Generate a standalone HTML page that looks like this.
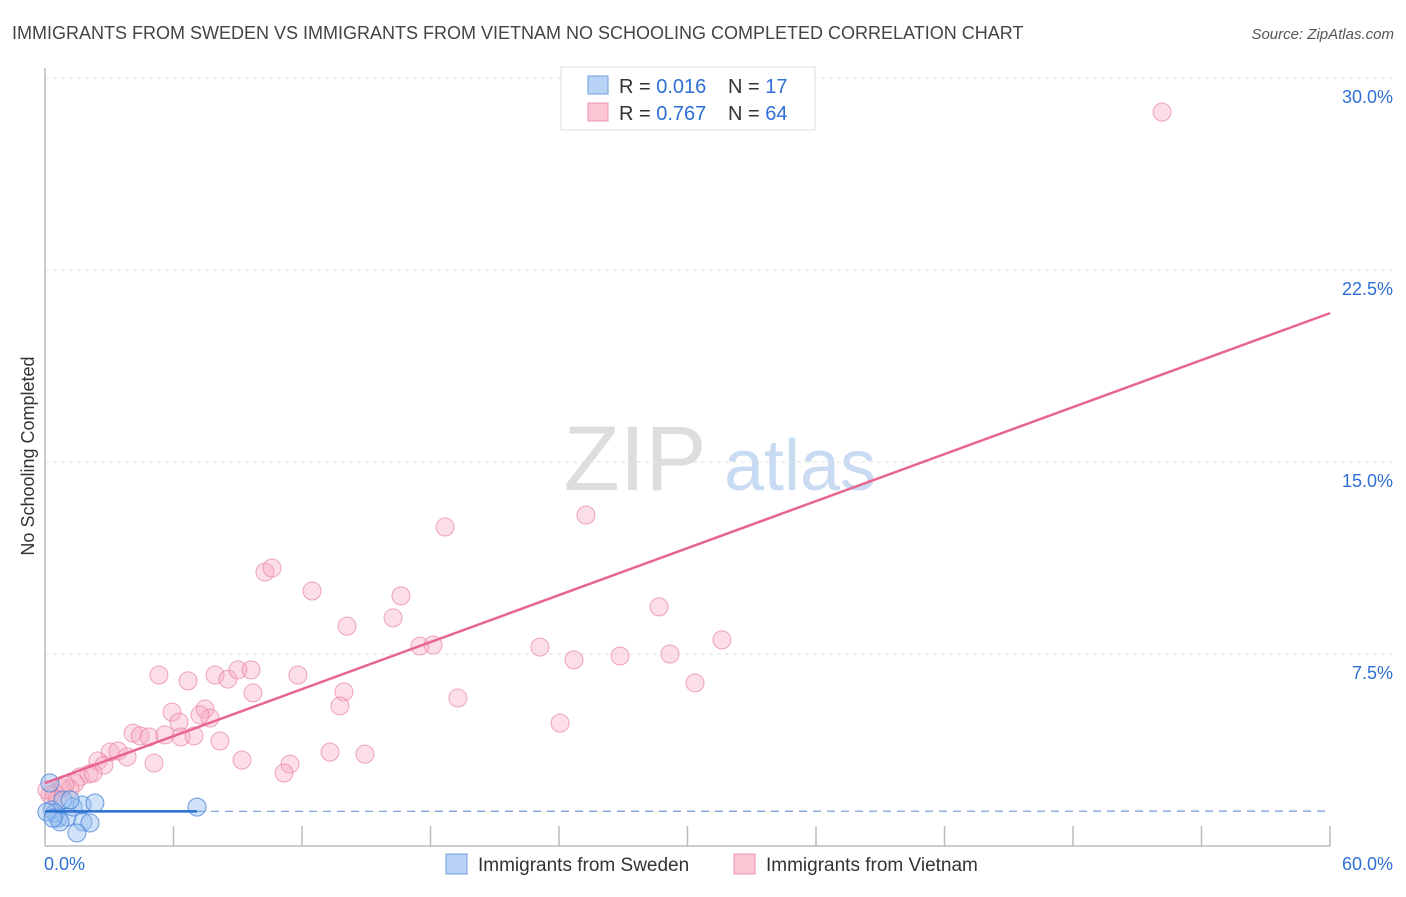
<!DOCTYPE html>
<html><head><meta charset="utf-8"><style>
body{margin:0;background:#fff;font-family:"Liberation Sans",sans-serif;}
svg text{font-family:"Liberation Sans",sans-serif;}
</style></head><body>
<svg id="c" width="1406" height="892" xmlns="http://www.w3.org/2000/svg">
<text x="12" y="39" font-size="18" fill="#444">IMMIGRANTS FROM SWEDEN VS IMMIGRANTS FROM VIETNAM NO SCHOOLING COMPLETED CORRELATION CHART</text>
<text x="1394" y="39" font-size="15" fill="#555" font-style="italic" text-anchor="end">Source: ZipAtlas.com</text>
<text x="34" y="456" font-size="18" fill="#333" text-anchor="middle" transform="rotate(-90 34 456)">No Schooling Completed</text>
<g><text x="635" y="490" font-size="92" fill="#ddd" font-family="Liberation Serif" text-anchor="middle">ZIP</text><text x="800" y="490" font-size="72" fill="#c9dbf3" text-anchor="middle">atlas</text></g>
<g id="grid"></g><g id="marks"></g>
<g>
<rect x="561" y="67" width="254" height="63" fill="#fff" stroke="#ddd"/>
<rect x="588" y="76" width="20" height="18" fill="#b8d3f5" stroke="#6f9ee0"/>
<rect x="588" y="103" width="20" height="18" fill="#fbc5d4" stroke="#ee93ac"/>
<text x="619" y="93" font-size="20" fill="#333">R = <tspan fill="#2e6fd6">0.016</tspan></text>
<text x="728" y="93" font-size="20" fill="#333">N = <tspan fill="#2e6fd6"> 17</tspan></text>
<text x="619" y="120" font-size="20" fill="#333">R = <tspan fill="#2e6fd6">0.767</tspan></text>
<text x="728" y="120" font-size="20" fill="#333">N = <tspan fill="#2e6fd6">64</tspan></text>
</g>
<g>
<rect x="446" y="854" width="21" height="20" fill="#b8d3f5" stroke="#6f9ee0"/>
<text x="478" y="871" font-size="19" fill="#333">Immigrants from Sweden</text>
<rect x="734" y="854" width="21" height="20" fill="#fbc5d4" stroke="#ee93ac"/>
<text x="766" y="871" font-size="19" fill="#333">Immigrants from Vietnam</text>
</g>
</svg>
<script>
const xTicks=[0,60];
const yTicks=[7.5,15,22.5,30];
const swedenX=[0.23,0.33,0.61,1.03,1.31,1.73,2.33,1.77,2.10,1.49,7.10,0.84,0.47,1.17,0.70,0.09,0.37];
const swedenY=[2.46,1.41,1.09,1.13,1.52,1.60,1.68,0.94,0.90,0.51,1.52,1.80,1.29,1.80,0.94,1.33,1.09];
const vietX=[52.16,18.68,25.26,10.27,10.60,12.47,16.62,14.10,16.25,28.67,17.51,18.12,23.11,24.70,26.85,29.18,31.61,30.35,5.32,6.68,7.94,8.54,9.01,9.62,9.71,11.81,13.96,13.77,19.28,24.05,5.93,6.26,7.47,7.70,7.24,4.11,4.44,4.86,5.60,6.35,6.96,8.17,9.20,5.09,3.04,3.41,3.83,2.47,2.75,1.63,2.05,2.24,1.40,0.79,1.17,0.47,0.23,0.56,13.31,14.94,11.44,11.16,0.09,0.93];
const vietY=[28.67,12.46,12.93,10.70,10.86,9.96,9.77,8.59,8.91,9.34,7.81,7.85,7.77,7.27,7.42,7.50,8.05,6.37,6.68,6.45,6.68,6.52,6.88,6.88,5.98,6.68,6.02,5.47,5.78,4.80,5.23,4.84,5.35,5.00,5.12,4.41,4.30,4.26,4.34,4.26,4.30,4.10,3.36,3.24,3.67,3.71,3.48,3.32,3.16,2.70,2.81,2.85,2.46,2.27,2.23,2.07,1.99,1.80,3.67,3.59,3.20,2.85,2.19,2.38];
const X=v=>45+v/60*1285, Y=v=>846-v/7.5*192;
const NS="http://www.w3.org/2000/svg";
function mk(t,a,p){const e=document.createElementNS(NS,t);for(const k in a)e.setAttribute(k,a[k]);p.appendChild(e);return e;}
const g=document.getElementById('grid'),m=document.getElementById('marks');
yTicks.forEach(v=>{
 const l=mk('line',{x1:45,x2:1392,y1:Y(v),y2:Y(v),stroke:'#e2e2e2','stroke-dasharray':'4,4'},g);
 
 
 const t=mk('text',{x:1393,y:Y(v)+25,'font-size':18,fill:'#2e6fd6','text-anchor':'end'},g);t.textContent=v.toFixed(1)+'%';
 
 
});
mk('line',{x1:45,x2:45,y1:68,y2:846,stroke:'#bbb','stroke-width':1.5},g);
mk('line',{x1:45,x2:1330,y1:846,y2:846,stroke:'#bbb','stroke-width':1.5},g);
for(let i=1;i<=10;i++){mk('line',{x1:X(i*6),x2:X(i*6),y1:826,y2:846,stroke:'#bbb','stroke-width':1.5},g);}
xTicks.forEach((v,i)=>{const t=mk('text',{x:i?1393:44,y:870,'font-size':18,fill:'#2e6fd6','text-anchor':i?'end':'start'},g);t.textContent=v.toFixed(1)+'%';
 
 });
function fit(xs,ys){const n=xs.length;let mx=0,my=0;xs.forEach((x,i)=>{mx+=x;my+=ys[i]});mx/=n;my/=n;let sxy=0,sxx=0;xs.forEach((x,i)=>{sxy+=(x-mx)*(ys[i]-my);sxx+=(x-mx)**2});const b=sxy/sxx;return [my-b*mx,b];}
vietX.forEach((x,i)=>{const c=mk('circle',{cx:X(x),cy:Y(vietY[i]),r:9,fill:'rgba(246,168,192,0.38)',stroke:'rgba(232,130,160,0.7)'},m);
 
 });
swedenX.forEach((x,i)=>{const c=mk('circle',{cx:X(x),cy:Y(swedenY[i]),r:9,fill:'rgba(150,190,240,0.45)',stroke:'rgba(70,130,215,0.8)'},m);
 
 });
let [a,b]=fit(vietX,vietY);
const pl=mk('line',{x1:X(0),y1:Y(a),x2:X(60),y2:Y(a+b*60),stroke:'#e8658f','stroke-width':2.5},m);


[a,b]=fit(swedenX,swedenY);
const xm=Math.max(...swedenX);
const bl=mk('line',{x1:X(0),y1:Y(a),x2:X(xm),y2:Y(a+b*xm),stroke:'#2a6fd0','stroke-width':2.5},m);


const bd=mk('line',{x1:X(xm),y1:Y(a+b*xm),x2:X(60),y2:Y(a+b*60),stroke:'#6f9ad8','stroke-width':1.2,'stroke-dasharray':'8,6'},m);


</script>
</body></html>
